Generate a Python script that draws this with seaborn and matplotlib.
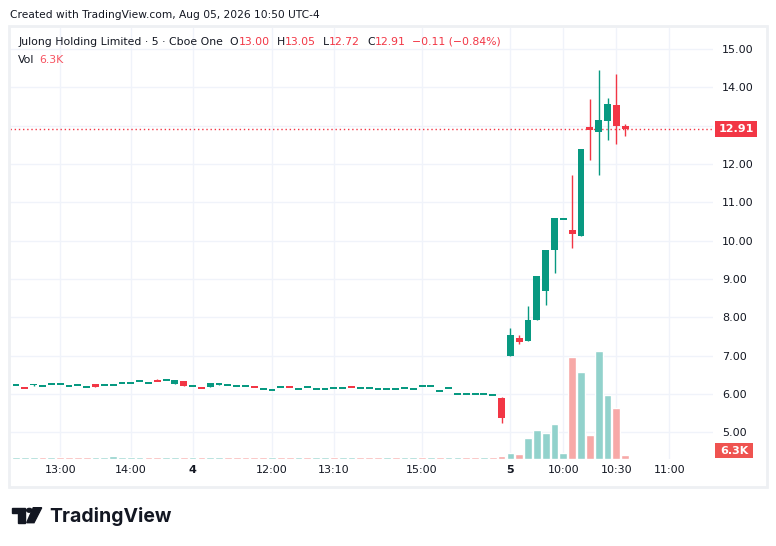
import matplotlib
matplotlib.use("Agg")
import numpy as np
import pandas as pd
import matplotlib.pyplot as plt
import seaborn as sns
from matplotlib import transforms
from matplotlib.patches import Rectangle, Circle, Polygon

# 5 min bars, Julong Holding Limited (Cboe One)
opens = [6.24, 6.17, 6.25, 6.21, 6.26, 6.26, 6.21, 6.24, 6.18, 6.25,
         6.24, 6.24, 6.29, 6.29, 6.34, 6.29, 6.36, 6.37, 6.25, 6.33,
         6.21, 6.17, 6.17, 6.24, 6.24, 6.21, 6.21, 6.19, 6.13, 6.10,
         6.18, 6.19, 6.13, 6.18, 6.13, 6.13, 6.16, 6.16, 6.19, 6.16,
         6.16, 6.13, 6.13, 6.13, 6.16, 6.13, 6.21, 6.21, 6.08, 6.16,
         6.00, 6.00, 6.00, 6.00, 5.97, 5.90,
         7.00, 7.46, 7.39, 7.93, 8.69, 9.76, 10.57, 10.28, 10.13, 12.96,
         12.84, 13.12, 13.54, 13.00]
highs = [6.24, 6.17, 6.27, 6.21, 6.26, 6.26, 6.21, 6.24, 6.18, 6.25,
         6.24, 6.24, 6.29, 6.29, 6.34, 6.29, 6.39, 6.37, 6.37, 6.33,
         6.21, 6.17, 6.29, 6.29, 6.24, 6.21, 6.21, 6.19, 6.13, 6.10,
         6.18, 6.19, 6.13, 6.18, 6.13, 6.13, 6.16, 6.16, 6.19, 6.16,
         6.16, 6.13, 6.13, 6.13, 6.16, 6.13, 6.21, 6.21, 6.08, 6.16,
         6.00, 6.00, 6.00, 6.00, 5.97, 5.91,
         7.73, 7.54, 8.29, 9.08, 9.76, 10.59, 10.59, 11.71, 12.39, 13.69,
         14.45, 13.72, 14.35, 13.05]
lows = [6.24, 6.16, 6.22, 6.21, 6.26, 6.26, 6.21, 6.24, 6.18, 6.17,
        6.24, 6.24, 6.29, 6.29, 6.34, 6.29, 6.33, 6.37, 6.25, 6.21,
        6.21, 6.16, 6.17, 6.24, 6.24, 6.21, 6.21, 6.18, 6.13, 6.10,
        6.18, 6.18, 6.13, 6.18, 6.13, 6.13, 6.16, 6.16, 6.18, 6.16,
        6.16, 6.13, 6.13, 6.13, 6.16, 6.13, 6.21, 6.21, 6.08, 6.16,
        6.00, 6.00, 6.00, 6.00, 5.97, 5.23,
        7.00, 7.31, 7.39, 7.93, 8.32, 9.16, 10.57, 9.82, 10.13, 12.11,
        11.71, 12.62, 12.53, 12.72]
closes = [6.24, 6.16, 6.26, 6.21, 6.26, 6.26, 6.21, 6.24, 6.18, 6.17,
          6.24, 6.24, 6.29, 6.29, 6.34, 6.29, 6.33, 6.37, 6.37, 6.21,
          6.21, 6.16, 6.29, 6.29, 6.24, 6.21, 6.21, 6.18, 6.13, 6.10,
          6.18, 6.18, 6.13, 6.18, 6.13, 6.13, 6.16, 6.16, 6.18, 6.16,
          6.16, 6.13, 6.13, 6.13, 6.16, 6.13, 6.21, 6.21, 6.08, 6.16,
          6.00, 6.00, 6.00, 6.00, 5.97, 5.36,
          7.54, 7.36, 7.93, 9.08, 9.76, 10.59, 10.59, 10.16, 12.39, 12.89,
          13.15, 13.57, 13.00, 12.91]
# volume in thousands
volumes = [2.6] * 11 + [5.0] + [2.6] * 42 + [2.6, 4.0,
           9.5, 7.9, 33, 46, 41, 55, 9.5, 161, 137, 38, 170, 101, 80, 6.3]
vol_up = [1, 1, 1, 0, 1, 0, 0, 0, 0, 1, 1, 1, 1, 1, 1, 0, 0, 1, 1, 0,
          1, 0, 1, 1, 0, 0, 0, 0, 0, 1, 0, 0, 1, 0, 1, 1, 0, 1, 1, 0,
          0, 0, 1, 0, 1, 1, 0, 1, 0, 1, 1, 0, 0, 1, 0, 0,
          1, 0, 1, 1, 1, 1, 1, 0, 1, 0, 1, 1, 0, 0]
tick_pos = [5, 13, 20, 29, 36, 46, 56, 62, 68, 74]
tick_labels = ["13:00", "14:00", "4", "12:00", "13:10", "15:00", "5", "10:00", "10:30", "11:00"]
price_ticks = [5, 6, 7, 8, 9, 10, 11, 12, 13, 14, 15]

UP, DN = "#089981", "#f23645"
VUP, VDN = "#92d2cc", "#f7a9a7"
TXT = "#131722"
GRID = "#f0f3fa"

sns.set_style("white")
plt.rcParams['font.family'] = ['DejaVu Sans']

W, H = 776, 546
fig = plt.figure(figsize=(W / 100, H / 100), dpi=100)
ax = fig.add_axes([10 / W, 87 / H, 703 / W, 431 / H])
axv = ax.twinx()

o = np.array(opens); c = np.array(closes)
idx = np.arange(len(o))
cols = [UP if cc >= oo else DN for oo, cc in zip(o, c)]
min_body = 0.045
body_h = np.maximum(np.abs(c - o), min_body)
body_lo = np.where(np.abs(c - o) < min_body, np.minimum(o, c) - min_body / 2, np.minimum(o, c))

ax.vlines(idx, lows, highs, colors=cols, lw=1, zorder=2)
ax.bar(idx, body_h, bottom=body_lo, width=0.78, color=cols, lw=0, zorder=3)

vdf = pd.DataFrame({"bar": idx, "volume": volumes,
                    "side": ["up" if u else "down" for u in vol_up]})
sns.barplot(data=vdf, x="bar", y="volume", hue="side", palette={"up": VUP, "down": VDN},
            dodge=False, native_scale=True, width=0.88, errorbar=None, saturation=1,
            legend=False, ax=axv)
axv.set_ylim(0, 679)
axv.set_yticks([])
axv.set_xlabel(""); axv.set_ylabel("")

last = closes[-1]
ax.set_xlim(-0.68, 78.95)
ax.set_ylim(4.303, 15.547)
ax.yaxis.tick_right()
ax.set_yticks(price_ticks)
# the tick hidden under the last-price label is not shown
ax.set_yticklabels(["" if abs(p - last) < 0.3 else f"{p:.2f}" for p in price_ticks])
ax.set_xticks(tick_pos)
ax.set_xticklabels(tick_labels)
for lab in ax.get_xticklabels():
    if len(lab.get_text()) == 1:
        lab.set_fontweight("bold")
ax.tick_params(axis="y", length=0, pad=6.5, labelsize=8, colors=TXT)
ax.tick_params(axis="x", length=0, pad=4.5, labelsize=8, colors=TXT)
ax.grid(True, color=GRID, lw=1)
ax.set_axisbelow(True)
for a in (ax, axv):
    for s in a.spines.values():
        s.set_visible(False)

# last price line + labels
ax.axhline(last, color=DN, lw=1, ls=(0, (1, 2)), zorder=1)
blend = transforms.blended_transform_factory(ax.transAxes, ax.transData)
ax.add_patch(Rectangle((1 + 2 / 703, last - 0.217), 42 / 703, 0.433, transform=blend,
                       color=DN, clip_on=False, lw=0))
ax.text(1 + 23 / 703, last, f"{last:.2f}", transform=blend, ha="center", va="center",
        color="white", fontsize=8, fontweight="bold")
ax.add_patch(Rectangle((1 + 2 / 703, 0.0023), 38 / 703, 0.035, transform=ax.transAxes,
                       color="#ef5350", clip_on=False, lw=0))
ax.text(1 + 21 / 703, 0.0197, f"{volumes[-1]:.1f}K", transform=ax.transAxes, ha="center",
        va="center", color="white", fontsize=8, fontweight="bold")

def fx(x):
    return x / W

def fy(y):
    return 1 - y / H

# frame and header
fig.patches.append(Rectangle((fx(9), fy(487)), 758 / W, 461 / H, transform=fig.transFigure,
                             fill=False, ec="#eef0f3", lw=2))
fig.text(fx(10), fy(15.5), "Created with TradingView.com, Aug 05, 2026 10:50 UTC-4",
         fontsize=7.7, color=TXT, va="center")

renderer = fig.canvas.get_renderer()
header = [("Julong Holding Limited · 5 · Cboe One", TXT, 7), ("O", TXT, 0), ("13.00", DN, 7),
          ("H", TXT, 0), ("13.05", DN, 7), ("L", TXT, 0), ("12.72", DN, 7),
          ("C", TXT, 0), ("12.91", DN, 7), ("−0.11 (−0.84%)", DN, 0)]
x = 18
for s, col, gap in header:
    t = fig.text(fx(x), fy(42), s, fontsize=7.8, color=col, va="center")
    x += t.get_window_extent(renderer).width + gap
t = fig.text(fx(18), fy(60), "Vol", fontsize=7.8, color=TXT, va="center")
x = 18 + t.get_window_extent(renderer).width + 5
fig.text(fx(x), fy(60), f"{volumes[-1]:.1f}K", fontsize=7.8, color="#f7525f", va="center")

# logo
k = "#131722"
fig.patches.append(Polygon([(fx(12), fy(507.7)), (fx(25), fy(507.7)), (fx(25), fy(522.7)),
                            (fx(18.3), fy(522.7)), (fx(18.3), fy(512.7)), (fx(12), fy(512.7))],
                           closed=True, transform=fig.transFigure, color=k))
fig.patches.append(Circle((fx(29.3), fy(510.3)), 2.7 / W, transform=fig.transFigure, color=k))
fig.patches.append(Polygon([(fx(33.3), fy(507.7)), (fx(41.7), fy(507.7)), (fx(34), fy(522.7)),
                            (fx(26.7), fy(522.7))], closed=True, transform=fig.transFigure, color=k))
fig.text(fx(49), fy(516), "TradingView", fontsize=14, fontweight="bold", family="Inter",
         color=k, va="center")

fig.savefig("out.png", dpi=100, facecolor="white")
